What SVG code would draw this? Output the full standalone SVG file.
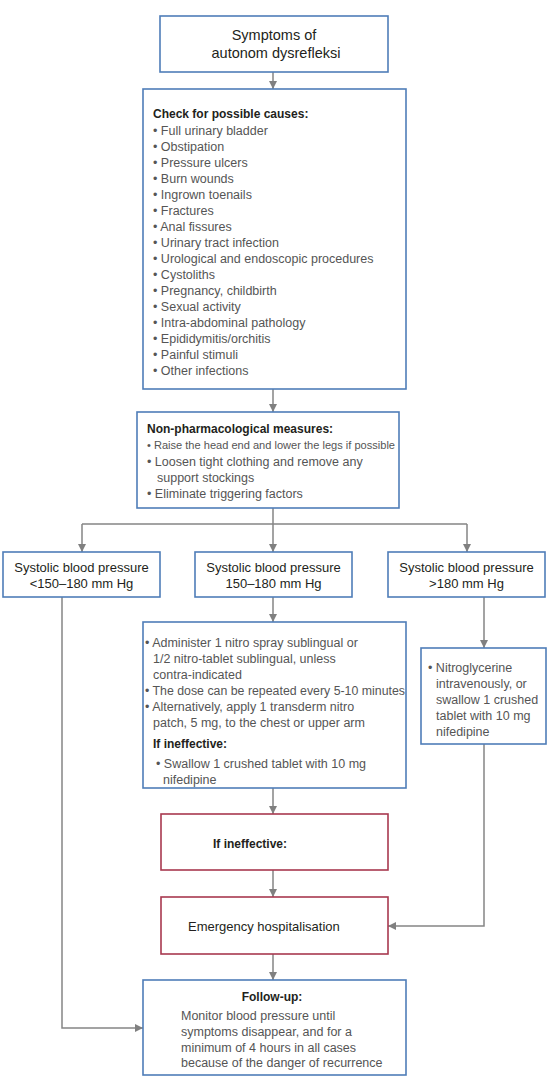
<svg xmlns="http://www.w3.org/2000/svg" width="550" height="1091" viewBox="0 0 550 1091">
<defs>
<marker id="ah" viewBox="0 0 10 10" refX="10" refY="5" markerWidth="8" markerHeight="8" markerUnits="userSpaceOnUse" orient="auto">
<path d="M0,0 L10,5 L0,10 Z" fill="#808080"/>
</marker>
<style>
.bb{fill:#fff;stroke:#4f7db8;stroke-width:1.6}
.rb{fill:#fff;stroke:#a8394f;stroke-width:1.6}
.c{fill:none;stroke:#858585;stroke-width:1.5}
text{font-family:"Liberation Sans",Arial,sans-serif}
.t{font-size:12.5px;fill:#555}
.h{font-size:12px;font-weight:bold;fill:#231f20}
.d{font-size:13px;fill:#231f20}
.m{text-anchor:middle}
</style>
</defs>
<rect width="550" height="1091" fill="#fff"/>
<g id="connectors">
<line class="c" x1="273" y1="72" x2="273" y2="89" marker-end="url(#ah)"/>
<line class="c" x1="273" y1="389" x2="273" y2="412" marker-end="url(#ah)"/>
<line class="c" x1="273" y1="508" x2="273" y2="552" marker-end="url(#ah)"/>
<line class="c" x1="82" y1="524" x2="467" y2="524"/>
<line class="c" x1="82" y1="524" x2="82" y2="552" marker-end="url(#ah)"/>
<line class="c" x1="467" y1="524" x2="467" y2="552" marker-end="url(#ah)"/>
<polyline class="c" points="62,597 62,1028 143,1028" marker-end="url(#ah)"/>
<line class="c" x1="273" y1="597" x2="273" y2="622" marker-end="url(#ah)"/>
<line class="c" x1="484" y1="597" x2="484" y2="648" marker-end="url(#ah)"/>
<polyline class="c" points="484,744 484,926 388,926" marker-end="url(#ah)"/>
<line class="c" x1="273" y1="788" x2="273" y2="814" marker-end="url(#ah)"/>
<line class="c" x1="273" y1="870" x2="273" y2="897" marker-end="url(#ah)"/>
<line class="c" x1="273" y1="954" x2="273" y2="980" marker-end="url(#ah)"/>
</g>
<g id="symptoms">
<rect class="bb" x="160" y="16" width="228" height="56"/>
<text class="m" x="274" y="40" font-size="14.5" fill="#231f20">Symptoms of</text>
<text class="m" x="276" y="58" font-size="14.5" fill="#231f20">autonom dysrefleksi</text>
</g>
<g id="causes">
<rect class="bb" x="143" y="89" width="263" height="300"/>
<text class="h" x="153" y="118">Check for possible causes:</text>
<g class="t">
<text x="153" y="134.5">• Full urinary bladder</text>
<text x="153" y="150.5">• Obstipation</text>
<text x="153" y="166.5">• Pressure ulcers</text>
<text x="153" y="182.5">• Burn wounds</text>
<text x="153" y="198.5">• Ingrown toenails</text>
<text x="153" y="214.5">• Fractures</text>
<text x="153" y="230.5">• Anal fissures</text>
<text x="153" y="246.5">• Urinary tract infection</text>
<text x="153" y="262.5">• Urological and endoscopic procedures</text>
<text x="153" y="278.5">• Cystoliths</text>
<text x="153" y="294.5">• Pregnancy, childbirth</text>
<text x="153" y="310.5">• Sexual activity</text>
<text x="153" y="326.5">• Intra-abdominal pathology</text>
<text x="153" y="342.5">• Epididymitis/orchitis</text>
<text x="153" y="358.5">• Painful stimuli</text>
<text x="153" y="374.5">• Other infections</text>
</g>
</g>
<g id="nonpharm">
<rect class="bb" x="137" y="412" width="262" height="96"/>
<text class="h" x="147" y="433">Non-pharmacological measures:</text>
<text x="147" y="449" font-size="10.2" fill="#555" textLength="248" lengthAdjust="spacingAndGlyphs">• Raise the head end and lower the legs if possible</text>
<text class="t" x="147" y="465.5">• Loosen tight clothing and remove any</text>
<text class="t" x="157" y="481.5">support stockings</text>
<text class="t" x="147" y="497.5">• Eliminate triggering factors</text>
</g>
<g id="sbp-low">
<rect class="bb" x="3" y="552" width="157" height="45"/>
<text class="d m" x="81.5" y="571.5">Systolic blood pressure</text>
<text class="d m" x="81.5" y="588">&lt;150–180 mm Hg</text>
</g>
<g id="sbp-mid">
<rect class="bb" x="195" y="552" width="157" height="45"/>
<text class="d m" x="273.5" y="571.5">Systolic blood pressure</text>
<text class="d m" x="273.5" y="588">150–180 mm Hg</text>
</g>
<g id="sbp-high">
<rect class="bb" x="388" y="552" width="157" height="45"/>
<text class="d m" x="466.5" y="571.5">Systolic blood pressure</text>
<text class="d m" x="466.5" y="588">&gt;180 mm Hg</text>
</g>
<g id="nitro">
<rect class="bb" x="143" y="622" width="263" height="166"/>
<g class="t">
<text x="145" y="646.5">• Administer 1 nitro spray sublingual or</text>
<text x="153" y="662.5">1/2 nitro-tablet sublingual, unless</text>
<text x="153" y="678.5">contra-indicated</text>
<text x="145" y="694.5" textLength="260" lengthAdjust="spacingAndGlyphs">• The dose can be repeated every 5-10 minutes</text>
<text x="145" y="710.5">• Alternatively, apply 1 transderm nitro</text>
<text x="153" y="726.5">patch, 5 mg, to the chest or upper arm</text>
<text x="156" y="767.5">• Swallow 1 crushed tablet with 10 mg</text>
<text x="163" y="783.5">nifedipine</text>
</g>
<text class="h" x="153" y="747.5">If ineffective:</text>
</g>
<g id="nitroglycerine">
<rect class="bb" x="421" y="648" width="125" height="96"/>
<g class="t">
<text x="428" y="671.5">• Nitroglycerine</text>
<text x="436" y="687.5">intravenously, or</text>
<text x="436" y="703.5">swallow 1 crushed</text>
<text x="436" y="719.5">tablet with 10 mg</text>
<text x="436" y="735.5">nifedipine</text>
</g>
</g>
<g id="ineffective">
<rect class="rb" x="161" y="814" width="227" height="56"/>
<text class="h" x="213" y="847.5">If ineffective:</text>
</g>
<g id="emergency">
<rect class="rb" x="161" y="897" width="227" height="57"/>
<text class="d" x="188" y="930.5">Emergency hospitalisation</text>
</g>
<g id="followup">
<rect class="bb" x="143" y="980" width="263" height="95"/>
<text class="h m" x="272" y="1001">Follow-up:</text>
<g class="t">
<text x="181" y="1020">Monitor blood pressure until</text>
<text x="181" y="1036">symptoms disappear, and for a</text>
<text x="181" y="1051.5">minimum of 4 hours in all cases</text>
<text x="181" y="1067">because of the danger of recurrence</text>
</g>
</g>
</svg>
